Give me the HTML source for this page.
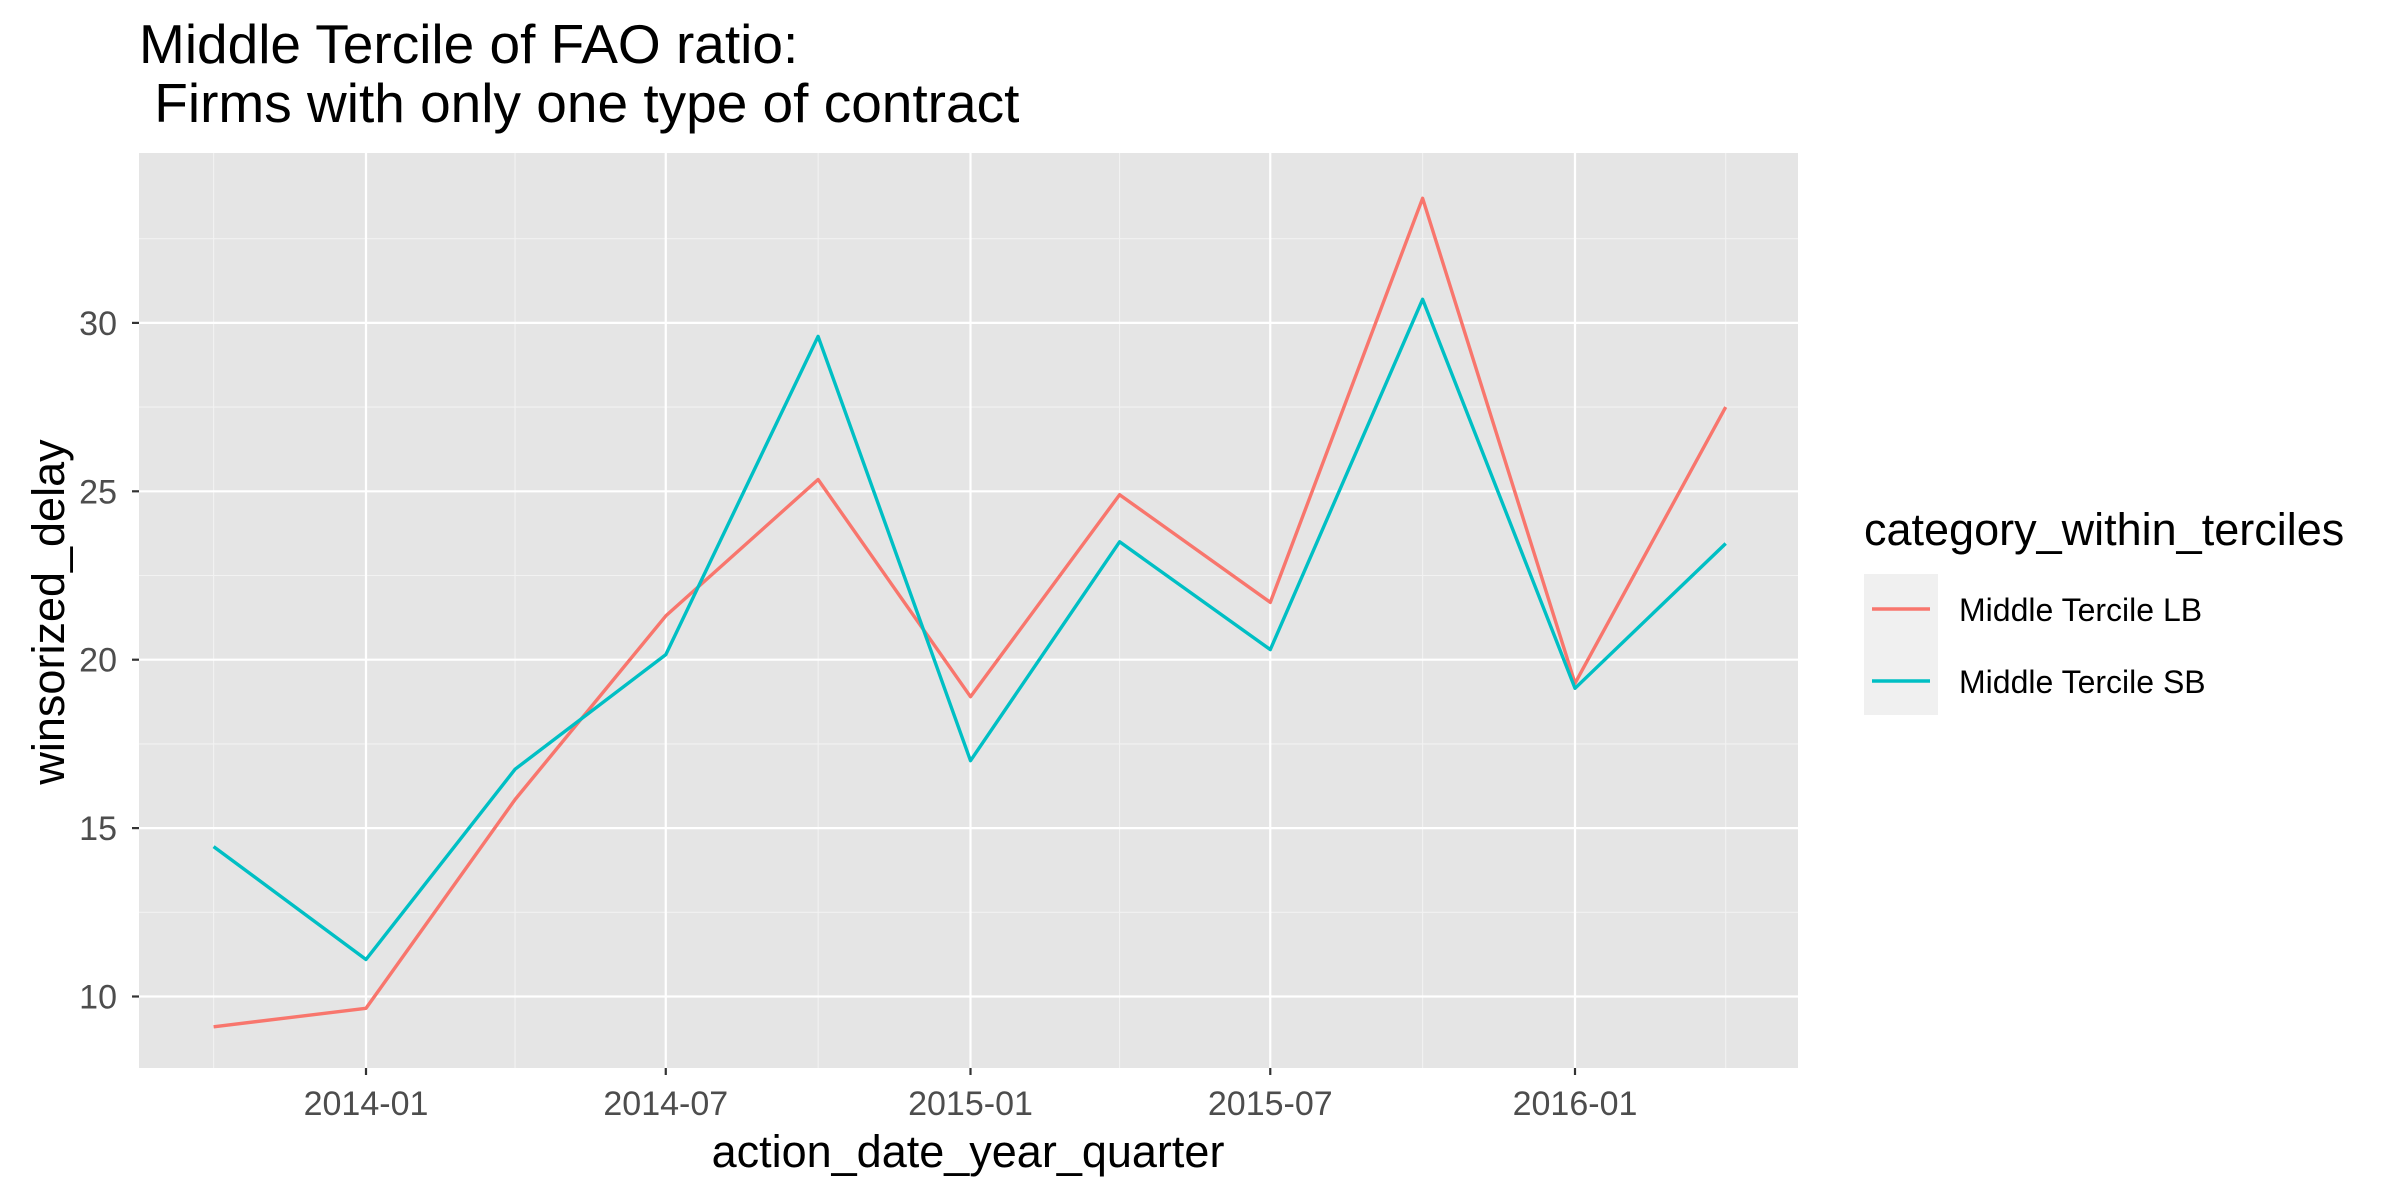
<!DOCTYPE html>
<html><head><meta charset="utf-8"><style>
body{margin:0;background:#fff}
svg{display:block;font-family:"Liberation Sans",Arial,sans-serif}
</style></head><body>
<svg width="2400" height="1200" viewBox="0 0 2400 1200">
<rect x="0" y="0" width="2400" height="1200" fill="#fff"/>
<g id="plot"></g>
<text x="139" y="63" font-size="55" fill="#000">Middle Tercile of FAO ratio:</text>
<text x="139" y="122" font-size="55" fill="#000" xml:space="preserve"> Firms with only one type of contract</text>
<text x="968" y="1167" font-size="45" text-anchor="middle" fill="#000">action_date_year_quarter</text>
<text transform="translate(64,612) rotate(-90)" font-size="45" text-anchor="middle" fill="#000">winsorized_delay</text>
<g>
<text x="1864" y="545" font-size="45" fill="#000">category_within_terciles</text>
<rect x="1864" y="574" width="74" height="141" fill="#f0f0f0"/>
<line x1="1872" x2="1930" y1="609" y2="609" stroke="#F8766D" stroke-width="3.4"/>
<line x1="1872" x2="1930" y1="681" y2="681" stroke="#00BFC4" stroke-width="3.4"/>
<text x="1959" y="621" font-size="32" fill="#000">Middle Tercile LB</text>
<text x="1959" y="693" font-size="32" fill="#000">Middle Tercile SB</text>
</g>
</svg>
<script>
const dates = ["2013-10-01","2014-01-01","2014-04-01","2014-07-01","2014-10-01","2015-01-01","2015-04-01","2015-07-01","2015-10-01","2016-01-01","2016-04-01"];
const lbValues = [9.1, 9.65, 15.85, 21.3, 25.35, 18.9, 24.9, 21.7, 33.7, 19.3, 27.5];
const sbValues = [14.45, 11.1, 16.75, 20.15, 29.6, 17.0, 23.5, 20.3, 30.7, 19.15, 23.45];
const yTicks = [10, 15, 20, 25, 30];
const xTickLabels = ["2014-01","2014-07","2015-01","2015-07","2016-01"];

const NS="http://www.w3.org/2000/svg";
const P={l:139,r:1798,t:153,b:1068};
const day=d=>Date.parse(d+"T00:00:00Z")/86400000;
const d0=day("2014-01-01"), pxPerDay=(1575-366)/730;
const xs=d=>366+(day(d)-d0)*pxPerDay;
const ys=v=>996.5-(v-10)*(168.4/5);
const g=document.getElementById('plot');
function mk(tag,attrs,parent){const e=document.createElementNS(NS,tag);for(const k in attrs)e.setAttribute(k,attrs[k]);(parent||g).appendChild(e);return e;}
const bg=mk('rect',{x:P.l,y:P.t,width:P.r-P.l,height:P.b-P.t,fill:'#e5e5e5'});


for(let i=0;i<yTicks.length+1;i++){
  const v=yTicks[0]-2.5+i*5;const y=ys(v);
  if(y<P.t||y>P.b)continue;
  const l=mk('line',{x1:P.l,x2:P.r,y1:y,y2:y,stroke:'#f2f2f2','stroke-width':1.1});
  
  
}
const minorX=["2013-10-01","2014-04-01","2014-10-01","2015-04-01","2015-10-01","2016-04-01"];
minorX.forEach(d=>{const x=xs(d);
  const l=mk('line',{x1:x,x2:x,y1:P.t,y2:P.b,stroke:'#f2f2f2','stroke-width':1.1});
  
  
});
yTicks.forEach(v=>{const y=ys(v);
  const l=mk('line',{x1:P.l,x2:P.r,y1:y,y2:y,stroke:'#fff','stroke-width':2.2});
  
  
  const t=mk('line',{x1:P.l-7,x2:P.l,y1:y,y2:y,stroke:'#333','stroke-width':2.2});
  
  
  const tx=mk('text',{x:P.l-22,y:y+12,'font-size':34,fill:'#4d4d4d','text-anchor':'end'});
  tx.textContent=v;
  
  
});
xTickLabels.forEach(s=>{const x=xs(s+"-01");
  const l=mk('line',{x1:x,x2:x,y1:P.t,y2:P.b,stroke:'#fff','stroke-width':2.2});
  
  
  const t=mk('line',{x1:x,x2:x,y1:P.b,y2:P.b+7,stroke:'#333','stroke-width':2.2});
  
  
  const tx=mk('text',{x:x,y:1115,'font-size':34,fill:'#4d4d4d','text-anchor':'middle'});
  tx.textContent=s;
  
  
});
function series(vals,color,name){
  const pts=vals.map((v,i)=>xs(dates[i]).toFixed(1)+","+ys(v).toFixed(1)).join(" ");
  const p=mk('polyline',{points:pts,fill:'none',stroke:color,'stroke-width':3.4,'stroke-linejoin':'round'});
  
  
}
series(lbValues,'#F8766D','line-middle-tercile-lb');
series(sbValues,'#00BFC4','line-middle-tercile-sb');
</script>
</body></html>
